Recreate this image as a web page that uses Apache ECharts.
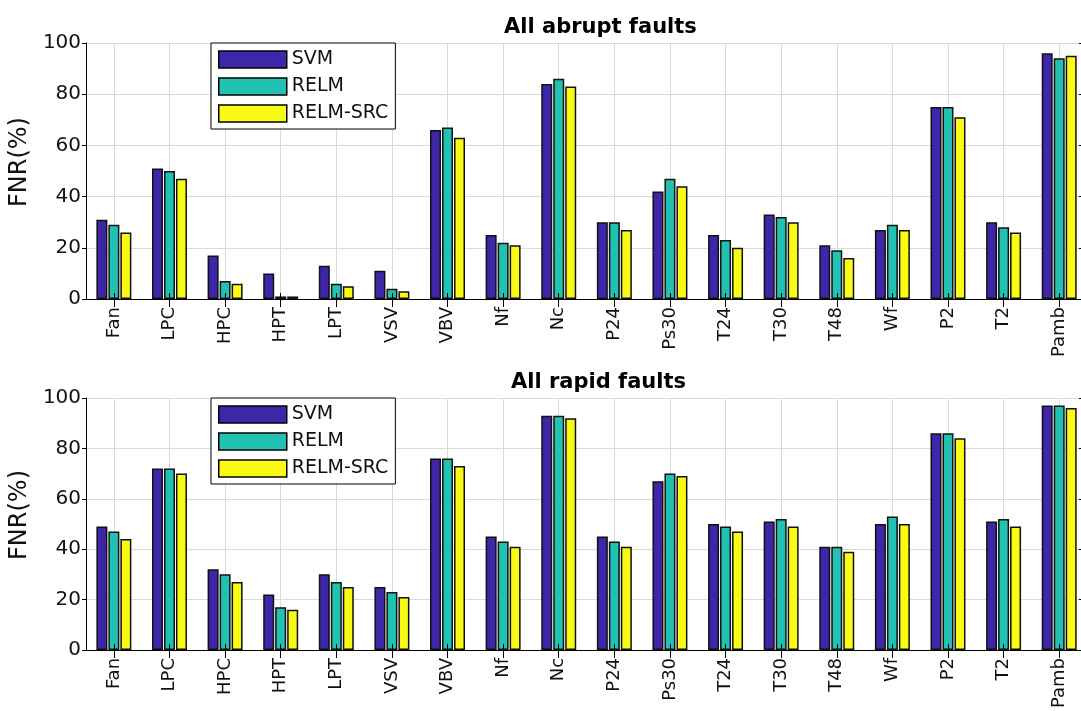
<!DOCTYPE html>
<html>
<head>
<meta charset="utf-8">
<script src="https://cdn.jsdelivr.net/npm/echarts@6/dist/echarts.min.js"></script>
<style>
  html, body { margin: 0; padding: 0; background: #fff; overflow: hidden; }
  /* a little wider than the window: the plot box is cut at the right edge in the original */
  #main { width: 1088px; height: 711px; }
</style>
</head>
<body>
<div id="main"></div>
<script>
// categories (sensors / components)
var categories = ['Fan', 'LPC', 'HPC', 'HPT', 'LPT', 'VSV', 'VBV', 'Nf', 'Nc', 'P24', 'Ps30', 'T24', 'T30', 'T48', 'Wf', 'P2', 'T2', 'Pamb']
var seriesNames = ['SVM', 'RELM', 'RELM-SRC']
var yTicks = [0, 20, 40, 60, 80, 100]

// FNR(%) - all abrupt faults
var abruptSVM = [31, 51, 17, 10, 13, 11, 66, 25, 84, 30, 42, 25, 33, 21, 27, 75, 30, 96]
var abruptRELM = [29, 50, 7, 1, 6, 4, 67, 22, 86, 30, 47, 23, 32, 19, 29, 75, 28, 94]
var abruptSRC = [26, 47, 6, 1, 5, 3, 63, 21, 83, 27, 44, 20, 30, 16, 27, 71, 26, 95]

// FNR(%) - all rapid faults
var rapidSVM = [49, 72, 32, 22, 30, 25, 76, 45, 93, 45, 67, 50, 51, 41, 50, 86, 51, 97]
var rapidRELM = [47, 72, 30, 17, 27, 23, 76, 43, 93, 43, 70, 49, 52, 41, 53, 86, 52, 97]
var rapidSRC = [44, 70, 27, 16, 25, 21, 73, 41, 92, 41, 69, 47, 49, 39, 50, 84, 49, 96]

var colors = ['#3E26A8', '#22C2B2', '#F9FB15']
var font = 'DejaVu Sans'

// bottom axis sits above the bars so its inner ticks show through them
function bottomAxis(gridIndex) {
  return {
    type: 'category',
    gridIndex: gridIndex,
    data: categories,
    position: 'bottom',
    z: 5,
    axisLine: { show: true, lineStyle: { color: '#000', width: 1 } },
    axisTick: { show: true, inside: true, alignWithLabel: true, length: 6, lineStyle: { color: '#000' } },
    axisLabel: { rotate: 90, fontSize: 18, fontFamily: font, color: '#111', margin: 8, interval: 0 },
    splitLine: { show: false }
  }
}

// top axis carries the vertical grid lines (behind the bars)
function topAxis(gridIndex) {
  return {
    type: 'category',
    gridIndex: gridIndex,
    data: categories,
    position: 'top',
    axisLine: { show: true, lineStyle: { color: '#000', width: 1 } },
    axisTick: { show: true, inside: true, alignWithLabel: true, length: 8, lineStyle: { color: '#000' } },
    axisLabel: { show: false },
    splitLine: { show: true, alignWithLabel: true, lineStyle: { color: '#dadada', width: 1 } }
  }
}

function leftAxis(gridIndex) {
  return {
    type: 'value',
    gridIndex: gridIndex,
    min: yTicks[0],
    max: yTicks[yTicks.length - 1],
    interval: 20,
    name: 'FNR(%)',
    nameLocation: 'middle',
    nameGap: 39,
    nameTextStyle: { fontSize: 24, fontFamily: font, color: '#111', padding: [0, 0, 0, 18] },
    axisLine: { show: true, lineStyle: { color: '#000', width: 1 } },
    axisTick: { show: true, length: 4, lineStyle: { color: '#000' } },
    axisLabel: { fontSize: 20, fontFamily: font, color: '#111', margin: 5 },
    splitLine: { show: true, lineStyle: { color: '#dadada', width: 1 } }
  }
}

function rightAxis(gridIndex) {
  return {
    type: 'value',
    gridIndex: gridIndex,
    position: 'right',
    min: yTicks[0],
    max: yTicks[yTicks.length - 1],
    interval: 20,
    axisLine: { show: true, lineStyle: { color: '#000', width: 1 } },
    axisTick: { show: true, inside: true, length: 8, lineStyle: { color: '#000' } },
    axisLabel: { show: false },
    splitLine: { show: false }
  }
}

function legendAt(top) {
  return {
    orient: 'vertical',
    left: 211,
    top: top,
    data: seriesNames,
    itemWidth: 68,
    itemHeight: 17,
    itemGap: 8,
    padding: [7, 7, 6, 7],
    backgroundColor: '#fff',
    borderColor: '#000',
    borderWidth: 1,
    borderRadius: 0,
    icon: 'rect',
    itemStyle: { borderColor: '#000', borderWidth: 1.5 },
    textStyle: { fontSize: 19, fontFamily: font, color: '#111' }
  }
}

function barSeries(name, data, axisIndex, colorIndex) {
  return {
    name: name,
    type: 'bar',
    xAxisIndex: axisIndex,
    yAxisIndex: axisIndex,
    data: data,
    barWidth: 11,
    barGap: '9%',
    itemStyle: { color: colors[colorIndex], borderColor: '#111', borderWidth: 1.5 },
    z: 3
  }
}

var myChart = echarts.init(document.getElementById('main'), null, { renderer: 'canvas' })
myChart.setOption({
  animation: false,
  backgroundColor: '#fff',
  title: [
    { text: 'All abrupt faults', left: 499, top: 12, textStyle: { fontSize: 21, fontWeight: 'bold', fontFamily: font, color: '#000' } },
    { text: 'All rapid faults', left: 506, top: 367, textStyle: { fontSize: 21, fontWeight: 'bold', fontFamily: font, color: '#000' } }
  ],
  legend: [legendAt(43), legendAt(398)],
  grid: [
    { left: 82, right: 1, top: 43, height: 256 },
    { left: 82, right: 1, top: 398, height: 255 }
  ],
  xAxis: [bottomAxis(0), topAxis(0), bottomAxis(1), topAxis(1)],
  yAxis: [leftAxis(0), rightAxis(0), leftAxis(1), rightAxis(1)],
  series: [
    barSeries('SVM', abruptSVM, 0, 0),
    barSeries('RELM', abruptRELM, 0, 1),
    barSeries('RELM-SRC', abruptSRC, 0, 2),
    barSeries('SVM', rapidSVM, 2, 0),
    barSeries('RELM', rapidRELM, 2, 1),
    barSeries('RELM-SRC', rapidSRC, 2, 2)
  ]
})
</script>
</body>
</html>
